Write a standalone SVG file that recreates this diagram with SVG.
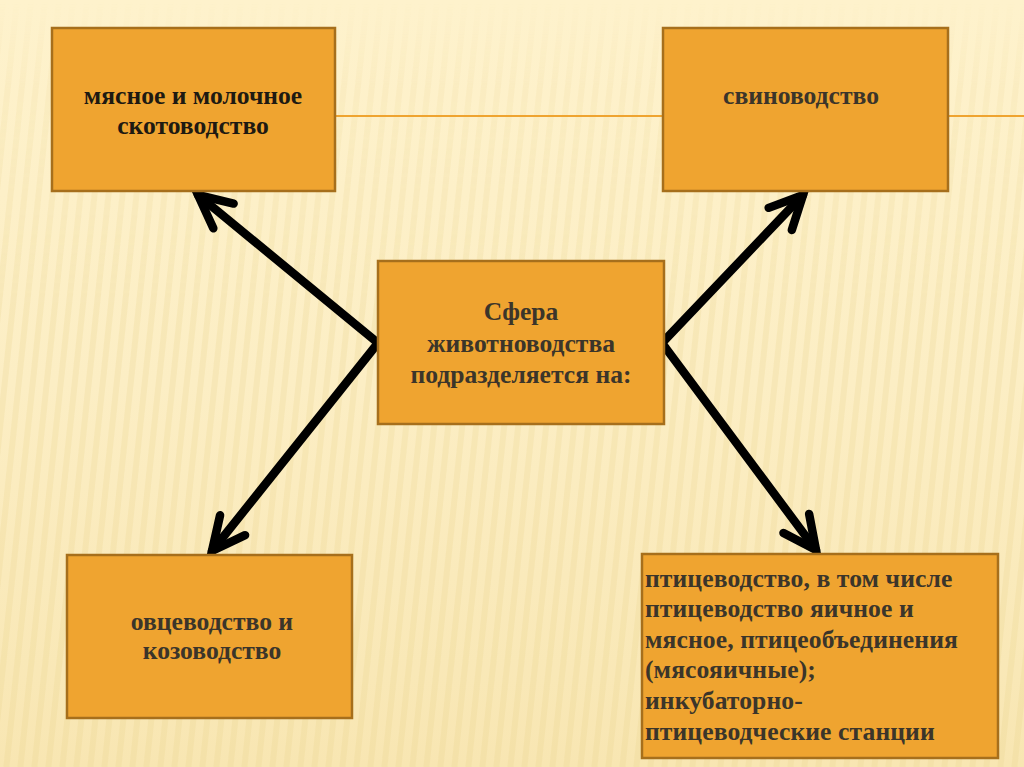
<svg xmlns="http://www.w3.org/2000/svg" width="1024" height="767" viewBox="0 0 1024 767">
<defs>
<style>
.box{fill:#EFA430;stroke:#A66F1C;stroke-width:2.5}
.t{font-family:"Liberation Serif","Times New Roman",serif;font-weight:bold;font-size:25.6px;fill:#3B352A}
.c{text-anchor:middle}
.dark{fill:#1E1A12}
.conn{fill:none;stroke:#000;stroke-width:8.5;stroke-linecap:round;stroke-linejoin:miter}
</style>
<linearGradient id="bg" x1="0" y1="0" x2="0" y2="1">
<stop offset="0" stop-color="#FEF2CC"/>
<stop offset="0.5" stop-color="#FCEEC4"/>
<stop offset="1" stop-color="#F8E6B2"/>
</linearGradient>
<pattern id="stripes" width="14" height="767" patternUnits="userSpaceOnUse" patternTransform="skewX(-6)">
<rect x="0" y="0" width="6" height="767" fill="#E9D08A" opacity="0.22"/>
</pattern>
<linearGradient id="fade" x1="0" y1="0" x2="0" y2="1">
<stop offset="0" stop-color="#fff" stop-opacity="0"/>
<stop offset="0.12" stop-color="#fff" stop-opacity="0.6"/>
<stop offset="0.4" stop-color="#fff" stop-opacity="1"/>
<stop offset="1" stop-color="#fff" stop-opacity="1"/>
</linearGradient>
<mask id="m"><rect width="1024" height="767" fill="url(#fade)"/></mask>
<marker id="ah" viewBox="-44 -24 52 48" refX="0" refY="0" markerWidth="52" markerHeight="48" markerUnits="userSpaceOnUse" orient="auto">
<path d="M-33,-16 L0,0 L-33,16" fill="none" stroke="#000" stroke-width="8.5" stroke-linecap="round" stroke-linejoin="miter"/>
</marker>
</defs>
<rect width="1024" height="767" fill="url(#bg)"/>
<rect width="1024" height="767" fill="url(#stripes)" mask="url(#m)"/>
<line x1="52" y1="116" x2="1024" y2="116" stroke="#EFA430" stroke-width="2"/>
<g id="connectors">
<path class="conn" d="M378,343 L198,195" marker-end="url(#ah)"/>
<path class="conn" d="M378,343 L212,551" marker-end="url(#ah)"/>
<path class="conn" d="M662,343 L803,195" marker-end="url(#ah)"/>
<path class="conn" d="M662,343 L816,550" marker-end="url(#ah)"/>
</g>
<g id="node-cattle">
<rect class="box" x="52" y="28" width="283" height="163"/>
<text class="t c dark" x="193" y="104">мясное и молочное</text>
<text class="t c dark" x="193" y="134">скотоводство</text>
</g>
<g id="node-pig">
<rect class="box" x="663" y="28" width="285" height="163"/>
<text class="t c" x="801" y="104">свиноводство</text>
</g>
<g id="node-center">
<rect class="box" x="378" y="261" width="286" height="163"/>
<text class="t c" x="521" y="320">Сфера</text>
<text class="t c" x="521" y="352">животноводства</text>
<text class="t c" x="521" y="383">подразделяется на:</text>
</g>
<g id="node-sheep">
<rect class="box" x="67" y="555" width="285" height="163"/>
<text class="t c" x="212" y="630">овцеводство и</text>
<text class="t c" x="212" y="659">козоводство</text>
</g>
<g id="node-poultry">
<rect class="box" x="642" y="554" width="356" height="204"/>
<text class="t" x="645" y="587" letter-spacing="0.1">птицеводство, в том числе</text>
<text class="t" x="645" y="617" letter-spacing="0.1">птицеводство яичное и</text>
<text class="t" x="645" y="648" letter-spacing="0.1">мясное, птицеобъединения</text>
<text class="t" x="645" y="678" letter-spacing="0.1">(мясояичные);</text>
<text class="t" x="645" y="709" letter-spacing="0.1">инкубаторно-</text>
<text class="t" x="645" y="740" letter-spacing="0.1">птицеводческие станции</text>
</g>
</svg>
